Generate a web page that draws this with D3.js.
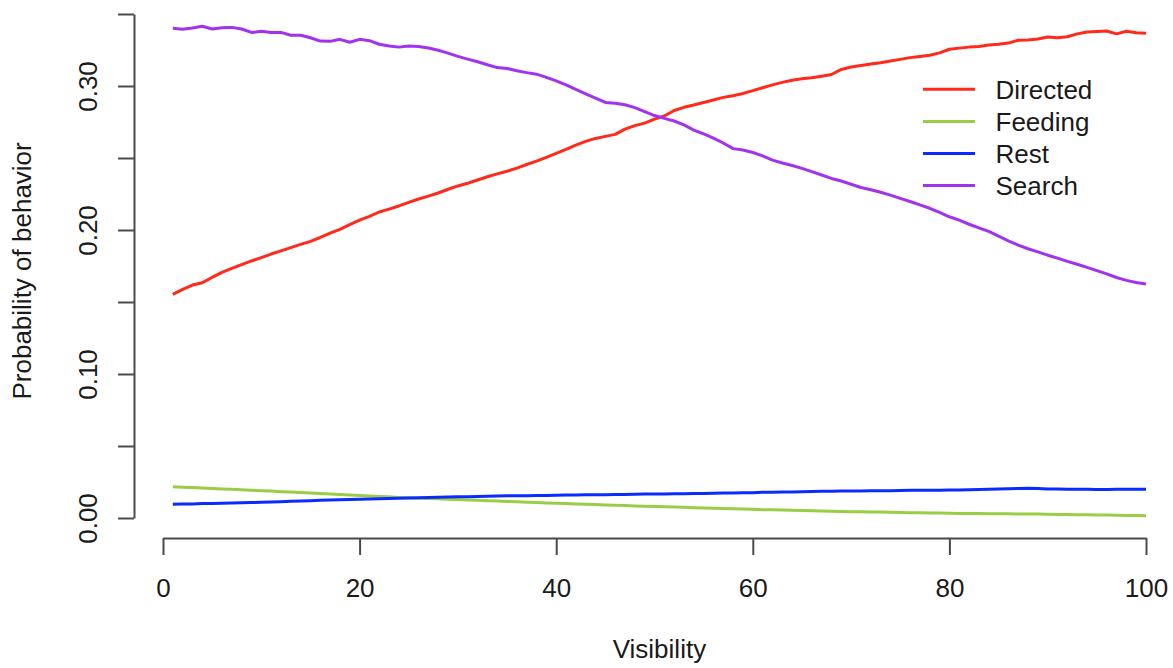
<!DOCTYPE html>
<html>
<head>
<meta charset="utf-8">
<script src="https://cdn.jsdelivr.net/npm/d3@7"></script>
<style>
  body { margin: 0; background: #ffffff; }
  svg { display: block; font-family: "Liberation Sans", Arial, Helvetica, sans-serif; }
</style>
</head>
<body>
<svg id="chart" width="1173" height="668"></svg>
<script>
// Visibility grid (x values)
const visibility = [
  1, 2, 3, 4, 5, 6, 7, 8, 9, 10, 11, 12, 13, 14, 15, 16, 17, 18, 19, 20,
  21, 22, 23, 24, 25, 26, 27, 28, 29, 30, 31, 32, 33, 34, 35, 36, 37, 38, 39, 40,
  41, 42, 43, 44, 45, 46, 47, 48, 49, 50, 51, 52, 53, 54, 55, 56, 57, 58, 59, 60,
  61, 62, 63, 64, 65, 66, 67, 68, 69, 70, 71, 72, 73, 74, 75, 76, 77, 78, 79, 80,
  81, 82, 83, 84, 85, 86, 87, 88, 89, 90, 91, 92, 93, 94, 95, 96, 97, 98, 99, 100
];

// Predicted probability of each behaviour along the visibility gradient
const directed = [
  0.1553, 0.1588, 0.1618, 0.1634, 0.1671, 0.1706, 0.1733, 0.1760, 0.1785, 0.1808,
  0.1833, 0.1855, 0.1878, 0.1900, 0.1921, 0.1948, 0.1978, 0.2005, 0.2038, 0.2069,
  0.2095, 0.2125, 0.2145, 0.2167, 0.2192, 0.2215, 0.2235, 0.2257, 0.2283, 0.2306,
  0.2325, 0.2347, 0.2370, 0.2390, 0.2408, 0.2430, 0.2455, 0.2478, 0.2505, 0.2532,
  0.2560, 0.2590, 0.2615, 0.2636, 0.2650, 0.2664, 0.2700, 0.2725, 0.2742, 0.2770,
  0.2792, 0.2830, 0.2852, 0.2868, 0.2885, 0.2903, 0.2921, 0.2932, 0.2948, 0.2968,
  0.2988, 0.3008, 0.3025, 0.3040, 0.3050, 0.3057, 0.3068, 0.3080, 0.3115, 0.3132,
  0.3142, 0.3153, 0.3162, 0.3174, 0.3185, 0.3197, 0.3205, 0.3214, 0.3230, 0.3255,
  0.3263, 0.3270, 0.3275, 0.3285, 0.3290, 0.3298, 0.3318, 0.3319, 0.3326, 0.3340,
  0.3335, 0.3342, 0.3362, 0.3375, 0.3378, 0.3382, 0.3362, 0.3380, 0.3370, 0.3366
];

const feeding = [
  0.0217, 0.0214, 0.0211, 0.0208, 0.0205, 0.0202, 0.0199, 0.0196, 0.0193, 0.0190,
  0.0187, 0.0183, 0.0180, 0.0177, 0.0173, 0.0170, 0.0167, 0.0163, 0.0160, 0.0157,
  0.0153, 0.0150, 0.0147, 0.0143, 0.0140, 0.0137, 0.0135, 0.0133, 0.0130, 0.0128,
  0.0125, 0.0123, 0.0120, 0.0118, 0.0115, 0.0113, 0.0110, 0.0107, 0.0105, 0.0102,
  0.0100, 0.0097, 0.0095, 0.0093, 0.0091, 0.0089, 0.0086, 0.0084, 0.0082, 0.0080,
  0.0078, 0.0076, 0.0074, 0.0072, 0.0070, 0.0068, 0.0066, 0.0064, 0.0062, 0.0060,
  0.0058, 0.0057, 0.0055, 0.0054, 0.0052, 0.0050, 0.0049, 0.0047, 0.0046, 0.0044,
  0.0043, 0.0042, 0.0041, 0.0040, 0.0039, 0.0037, 0.0036, 0.0035, 0.0034, 0.0033,
  0.0032, 0.0032, 0.0031, 0.0030, 0.0030, 0.0029, 0.0028, 0.0028, 0.0027, 0.0026,
  0.0025, 0.0024, 0.0023, 0.0022, 0.0021, 0.0020, 0.0019, 0.0018, 0.0017, 0.0016
];

const rest = [
  0.0095, 0.0097, 0.0098, 0.0100, 0.0101, 0.0103, 0.0104, 0.0106, 0.0107, 0.0109,
  0.0111, 0.0113, 0.0116, 0.0118, 0.0120, 0.0123, 0.0125, 0.0127, 0.0128, 0.0130,
  0.0132, 0.0134, 0.0136, 0.0137, 0.0139, 0.0141, 0.0142, 0.0144, 0.0145, 0.0147,
  0.0148, 0.0150, 0.0151, 0.0153, 0.0154, 0.0155, 0.0155, 0.0156, 0.0157, 0.0158,
  0.0159, 0.0160, 0.0161, 0.0162, 0.0162, 0.0163, 0.0164, 0.0165, 0.0166, 0.0166,
  0.0167, 0.0168, 0.0169, 0.0170, 0.0171, 0.0172, 0.0173, 0.0174, 0.0175, 0.0176,
  0.0178, 0.0179, 0.0180, 0.0181, 0.0182, 0.0184, 0.0185, 0.0186, 0.0187, 0.0188,
  0.0188, 0.0189, 0.0190, 0.0190, 0.0191, 0.0192, 0.0192, 0.0193, 0.0193, 0.0194,
  0.0195, 0.0196, 0.0198, 0.0199, 0.0201, 0.0203, 0.0205, 0.0206, 0.0204, 0.0202,
  0.0201, 0.0200, 0.0199, 0.0199, 0.0198, 0.0198, 0.0199, 0.0199, 0.0199, 0.0199
];

const search = [
  0.3401, 0.3394, 0.3403, 0.3415, 0.3396, 0.3405, 0.3407, 0.3396, 0.3372, 0.3380,
  0.3372, 0.3372, 0.3352, 0.3352, 0.3335, 0.3312, 0.3310, 0.3324, 0.3304, 0.3324,
  0.3315, 0.3290, 0.3278, 0.3270, 0.3278, 0.3275, 0.3264, 0.3248, 0.3228, 0.3206,
  0.3187, 0.3168, 0.3148, 0.3128, 0.3122, 0.3106, 0.3093, 0.3082, 0.3060, 0.3035,
  0.3008, 0.2976, 0.2946, 0.2916, 0.2886, 0.2880, 0.2870, 0.2850, 0.2822, 0.2795,
  0.2775, 0.2757, 0.2730, 0.2694, 0.2667, 0.2638, 0.2604, 0.2565, 0.2555, 0.2538,
  0.2515, 0.2485, 0.2465, 0.2448, 0.2428, 0.2405, 0.2382, 0.2358, 0.2340, 0.2318,
  0.2295, 0.2280, 0.2262, 0.2242, 0.2220, 0.2198, 0.2175, 0.2151, 0.2122, 0.2092,
  0.2068, 0.2040, 0.2015, 0.1990, 0.1958, 0.1925, 0.1895, 0.1870, 0.1848, 0.1825,
  0.1805, 0.1782, 0.1762, 0.1740, 0.1718, 0.1695, 0.1670, 0.1650, 0.1635, 0.1625
];

const seriesNames = ["Directed", "Feeding", "Rest", "Search"];
const seriesColors = ["#ff2a1a", "#9acd45", "#0a2bff", "#a032f0"];

const xTicks = [0, 20, 40, 60, 80, 100];
const yTicks = [0.00, 0.05, 0.10, 0.15, 0.20, 0.25, 0.30, 0.35];
const yTickLabels = ["0.00", "", "0.10", "", "0.20", "", "0.30", ""];

const xTitle = "Visibility";
const yTitle = "Probability of behavior";

const svg = d3.select("#chart");
const textColor = "#1a1a1a";
const axisColor = "#4a4a4a";
const fontSize = 26;

// Scales: data coordinates to pixels
const x = d3.scaleLinear().domain([0, 100]).range([163, 1146]);
const y = d3.scaleLinear().domain([0, 0.35]).range([518, 14]);

// Axis positions sit at the edges of the plotting region
const xAxisY = 538;
const yAxisX = 134;

// X axis
const gx = svg.append("g")
  .attr("transform", `translate(0,${xAxisY})`)
  .call(d3.axisBottom(x).tickValues(xTicks).tickFormat(d3.format("d"))
    .tickSize(17).tickSizeOuter(0));
gx.select(".domain").attr("stroke", axisColor).attr("stroke-width", 2);
gx.selectAll(".tick line").attr("stroke", axisColor).attr("stroke-width", 2);
gx.selectAll(".tick text")
  .attr("y", 59).attr("dy", 0)
  .attr("fill", textColor)
  .style("font-size", fontSize + "px")
  .style("font-family", "'Liberation Sans', Arial, sans-serif");

// Y axis with vertical tick labels
const gy = svg.append("g")
  .attr("transform", `translate(${yAxisX},0)`)
  .call(d3.axisLeft(y).tickValues(yTicks).tickFormat((d, i) => yTickLabels[i])
    .tickSize(16).tickSizeOuter(0));
gy.select(".domain").attr("stroke", axisColor).attr("stroke-width", 2);
gy.selectAll(".tick line").attr("stroke", axisColor).attr("stroke-width", 2);
gy.selectAll(".tick text")
  .attr("transform", "rotate(-90)")
  .attr("x", 0).attr("y", -37.5).attr("dy", 0)
  .attr("text-anchor", "middle")
  .attr("fill", textColor)
  .style("font-size", fontSize + "px")
  .style("font-family", "'Liberation Sans', Arial, sans-serif");

// Axis titles
svg.append("text")
  .attr("x", x(50.5)).attr("y", 658)
  .attr("text-anchor", "middle")
  .attr("fill", textColor)
  .style("font-size", fontSize + "px")
  .text(xTitle);

svg.append("text")
  .attr("transform", `translate(31,${y(0.1716)}) rotate(-90)`)
  .attr("text-anchor", "middle")
  .attr("fill", textColor)
  .style("font-size", fontSize + "px")
  .text(yTitle);

// Lines
const seriesValues = [directed, feeding, rest, search];
const line = d3.line()
  .x(d => x(d[0]))
  .y(d => y(d[1]));

const plot = svg.append("g");
seriesValues.forEach((vals, i) => {
  plot.append("path")
    .datum(visibility.map((v, j) => [v, vals[j]]))
    .attr("fill", "none")
    .attr("stroke", seriesColors[i])
    .attr("stroke-width", 3)
    .attr("stroke-linejoin", "round")
    .attr("stroke-linecap", "butt")
    .attr("d", line);
});

// Legend
const legend = svg.append("g");
const legendTop = 89.3;
const legendStep = 32.1;
seriesNames.forEach((name, i) => {
  const ly = legendTop + i * legendStep;
  legend.append("line")
    .attr("x1", 923).attr("x2", 975)
    .attr("y1", ly).attr("y2", ly)
    .attr("stroke", seriesColors[i])
    .attr("stroke-width", 3);
  legend.append("text")
    .attr("x", 995.5).attr("y", ly + 9.8)
    .attr("fill", textColor)
    .style("font-size", fontSize + "px")
    .text(name);
});
</script>
</body>
</html>
